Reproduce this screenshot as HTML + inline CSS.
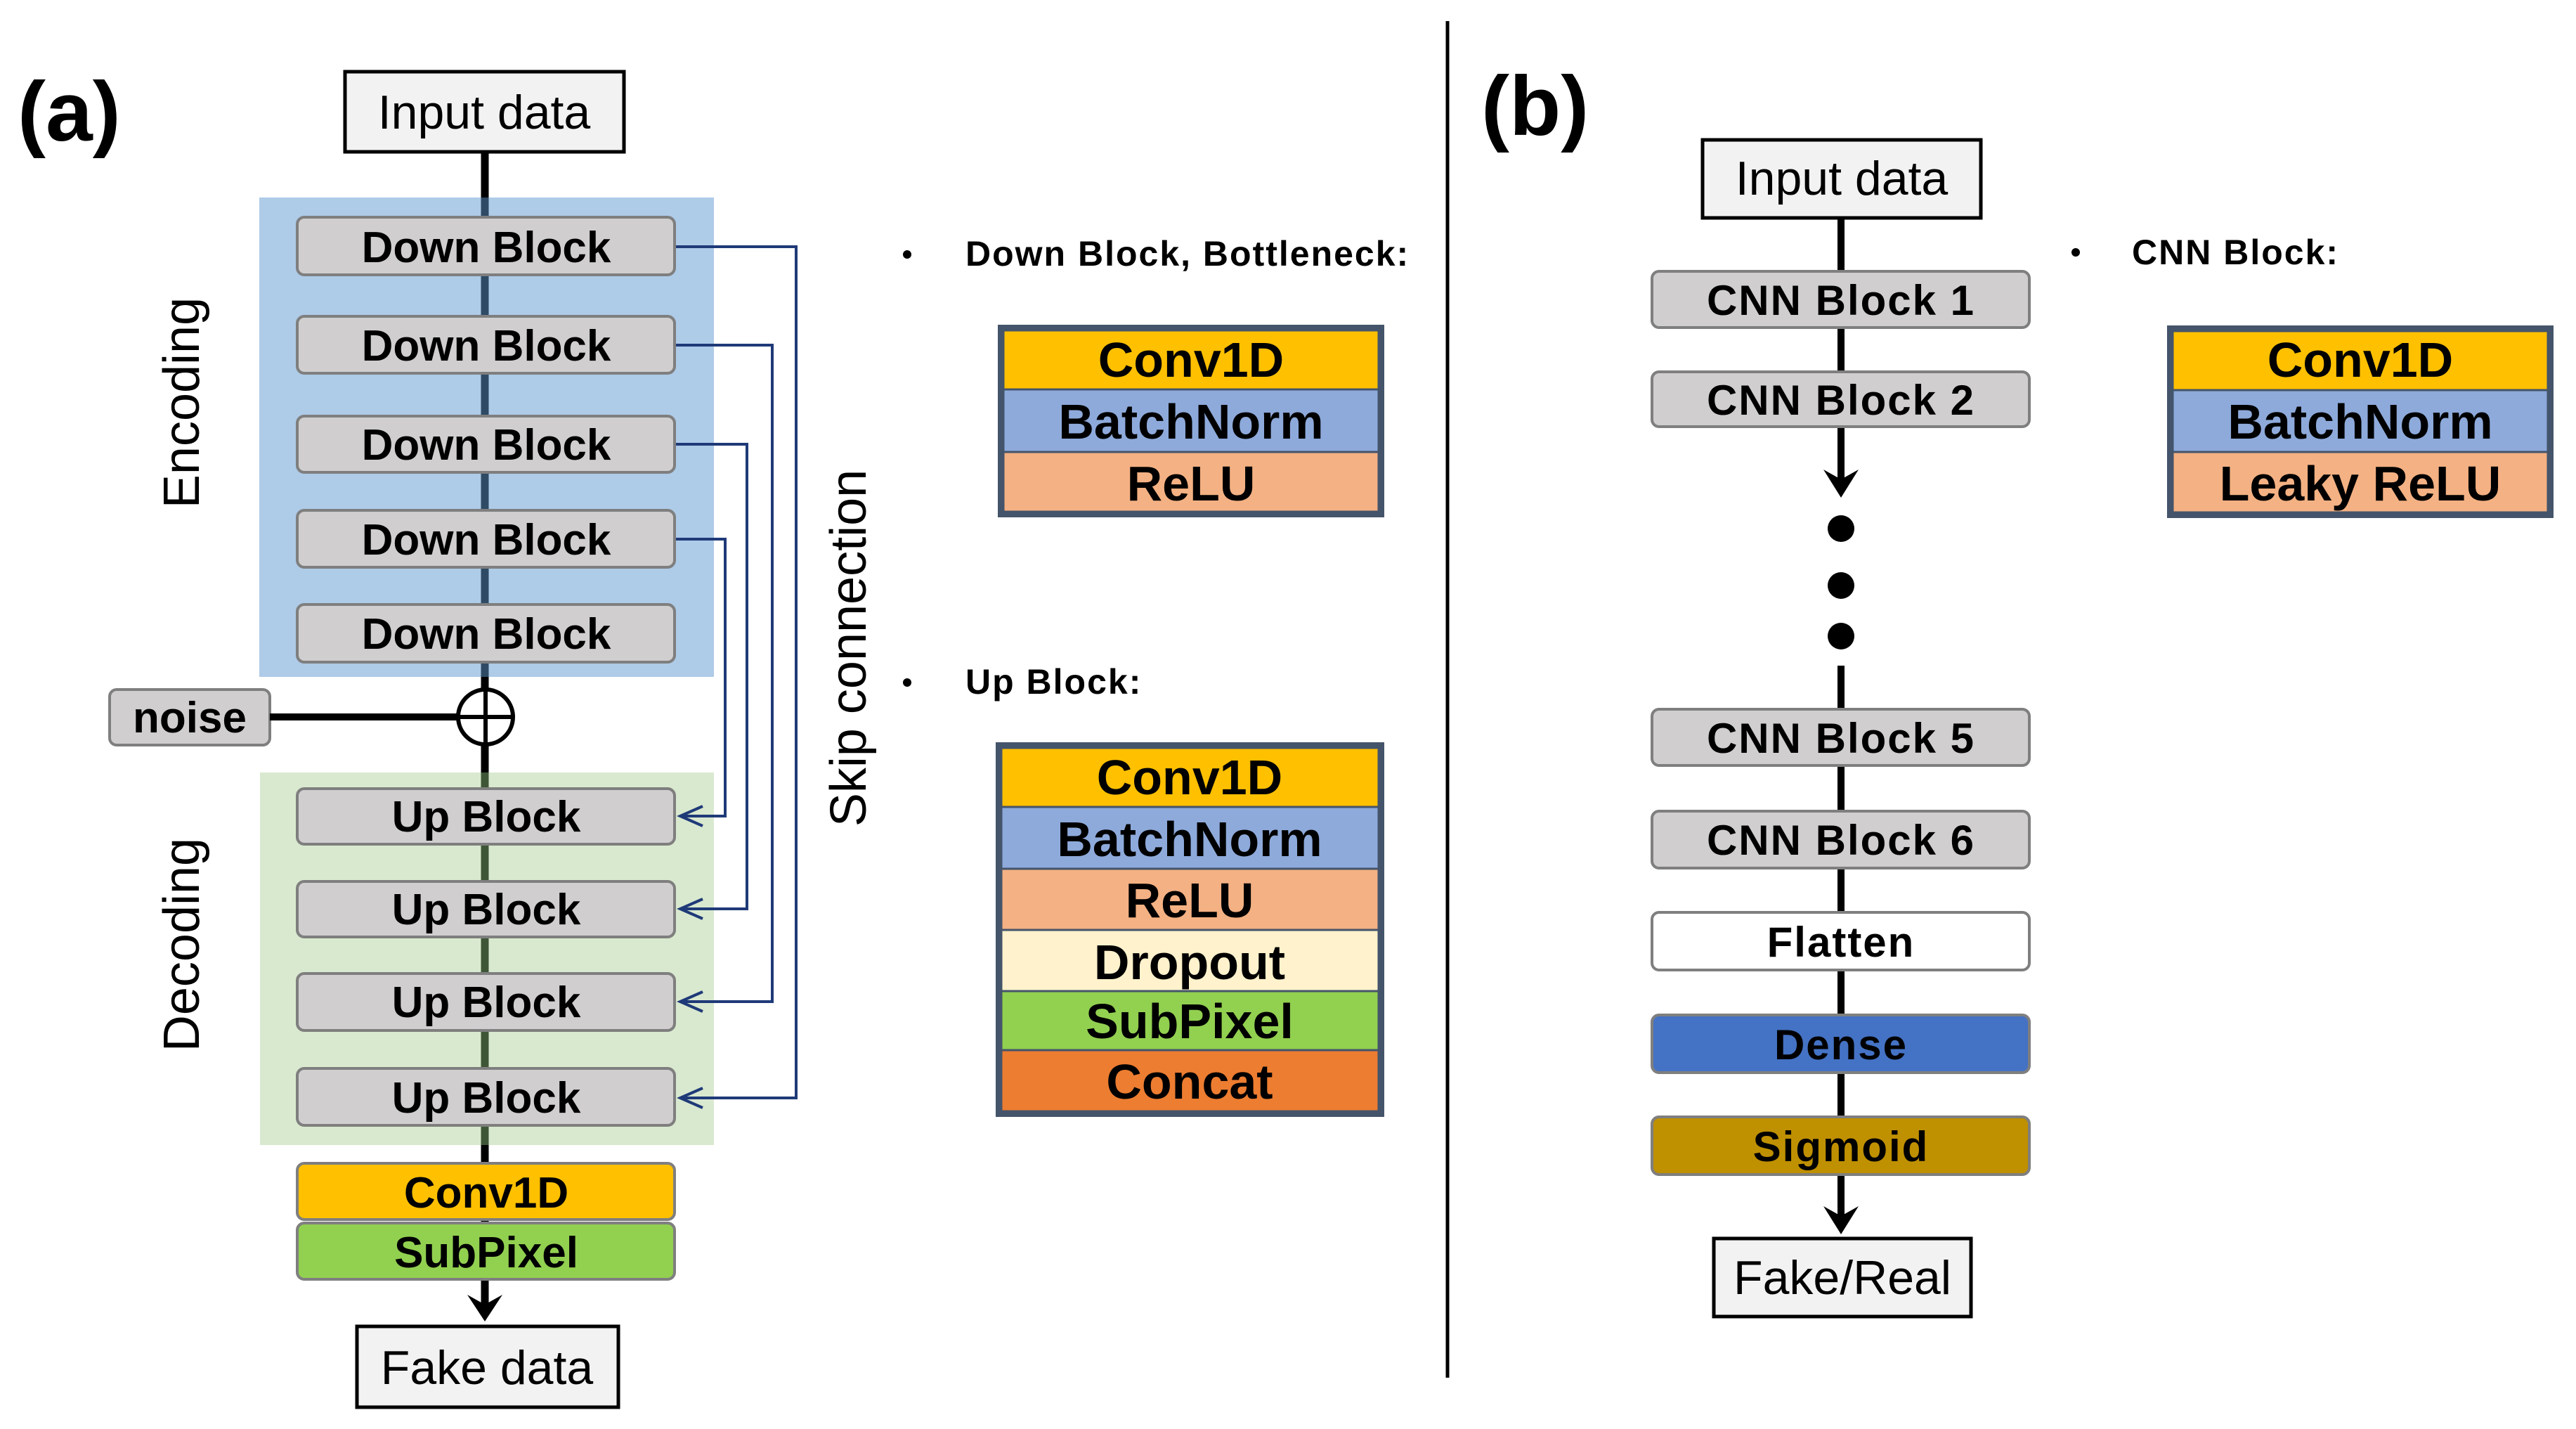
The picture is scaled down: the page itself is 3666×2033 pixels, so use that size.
<!DOCTYPE html>
<html><head><meta charset="utf-8"><style>
html,body{margin:0;padding:0;background:#fff;}
svg{display:block;}
text{font-family:"Liberation Sans",sans-serif;}
.b{font-weight:bold;}
</style></head><body>
<svg width="3666" height="2033" viewBox="0 0 3666 2033" xmlns="http://www.w3.org/2000/svg">
<!-- (a) -->
<text x="25" y="200" font-size="120" class="b">(a)</text>
<line x1="690" y1="218" x2="690" y2="1870" stroke="#000" stroke-width="11"/>
<rect x="369" y="281" width="647" height="682" fill="#aecbe8"/>
<rect x="370" y="1099" width="646" height="530" fill="#d9e9cf"/>
<line x1="690" y1="281" x2="690" y2="963" stroke="#2e4a64" stroke-width="11"/>
<line x1="690" y1="1099" x2="690" y2="1629" stroke="#3e5636" stroke-width="11"/>
<rect x="491" y="102" width="397" height="114" fill="#f2f2f2" stroke="#000" stroke-width="5"/>
<text x="689" y="183" font-size="68" text-anchor="middle">Input data</text>
<g fill="none" stroke="#1f3a78" stroke-width="4">
<polyline points="960,351 1133,351 1133,1562 968,1562"/>
<polyline points="960,491 1099,491 1099,1425 968,1425"/>
<polyline points="960,632 1063,632 1063,1293 968,1293"/>
<polyline points="960,767 1032,767 1032,1161 968,1161"/>
<polyline points="1000,1147 968,1161 1000,1175"/>
<polyline points="1000,1279 968,1293 1000,1307"/>
<polyline points="1000,1411 968,1425 1000,1439"/>
<polyline points="1000,1548 968,1562 1000,1576"/>
</g>
<g fill="#d0cece" stroke="#7f7f7f" stroke-width="4">
<rect x="423" y="309" width="537" height="82" rx="10"/>
<rect x="423" y="450" width="537" height="81" rx="10"/>
<rect x="423" y="592" width="537" height="80" rx="10"/>
<rect x="423" y="726" width="537" height="81" rx="10"/>
<rect x="423" y="860" width="537" height="82" rx="10"/>
<rect x="423" y="1122" width="537" height="79" rx="10"/>
<rect x="423" y="1254" width="537" height="79" rx="10"/>
<rect x="423" y="1385" width="537" height="81" rx="10"/>
<rect x="423" y="1520" width="537" height="81" rx="10"/>
<rect x="156" y="981" width="228" height="79" rx="10"/>
</g>
<g font-size="62" class="b" text-anchor="middle">
<text x="692" y="373">Down Block</text>
<text x="692" y="513">Down Block</text>
<text x="692" y="654">Down Block</text>
<text x="692" y="789">Down Block</text>
<text x="692" y="923">Down Block</text>
<text x="692" y="1183">Up Block</text>
<text x="692" y="1315">Up Block</text>
<text x="692" y="1447">Up Block</text>
<text x="692" y="1583">Up Block</text>
<text x="270" y="1042">noise</text>
</g>
<line x1="384" y1="1020" x2="652" y2="1020" stroke="#000" stroke-width="10"/>
<circle cx="691" cy="1020" r="39" fill="#fff" stroke="#000" stroke-width="6"/>
<line x1="652" y1="1020" x2="730" y2="1020" stroke="#000" stroke-width="6"/>
<line x1="691" y1="981" x2="691" y2="1059" stroke="#000" stroke-width="6"/>
<text transform="translate(283,573) rotate(-90)" font-size="72" text-anchor="middle">Encoding</text>
<text transform="translate(283,1344) rotate(-90)" font-size="72" text-anchor="middle">Decoding</text>
<text transform="translate(1232,922) rotate(-90)" font-size="72" text-anchor="middle">Skip connection</text>
<rect x="423" y="1655" width="537" height="80" rx="10" fill="#ffc000" stroke="#7f7f7f" stroke-width="4"/>
<rect x="423" y="1740" width="537" height="80" rx="10" fill="#92d050" stroke="#7f7f7f" stroke-width="4"/>
<text x="692" y="1718" font-size="62" class="b" text-anchor="middle">Conv1D</text>
<text x="692" y="1803" font-size="62" class="b" text-anchor="middle">SubPixel</text>
<polygon points="665,1842 690,1880 715,1842 690,1856" fill="#000"/>
<rect x="508" y="1887" width="372" height="115" fill="#f2f2f2" stroke="#000" stroke-width="5"/>
<text x="693" y="1969" font-size="68" text-anchor="middle">Fake data</text>
<circle cx="1291" cy="362" r="6" fill="#000"/>
<text x="1374" y="378" font-size="50" class="b" letter-spacing="2">Down Block, Bottleneck:</text>
<circle cx="1291" cy="971" r="6" fill="#000"/>
<text x="1374" y="987" font-size="50" class="b" letter-spacing="2">Up Block:</text>
<g stroke="#44546a" stroke-width="3">
<rect x="1428" y="470" width="534" height="84" fill="#ffc000"/>
<rect x="1428" y="554" width="534" height="89" fill="#8eaadb"/>
<rect x="1428" y="643" width="534" height="85" fill="#f4b183"/>
<rect x="1425" y="1064" width="537" height="84" fill="#ffc000"/>
<rect x="1425" y="1148" width="537" height="88" fill="#8eaadb"/>
<rect x="1425" y="1236" width="537" height="87" fill="#f4b183"/>
<rect x="1425" y="1323" width="537" height="87" fill="#fff2cc"/>
<rect x="1425" y="1410" width="537" height="84" fill="#92d050"/>
<rect x="1425" y="1494" width="537" height="87" fill="#ed7d31"/>
</g>
<rect x="1424" y="466" width="542" height="266" fill="none" stroke="#44546a" stroke-width="8"/>
<rect x="1421" y="1060" width="545" height="525" fill="none" stroke="#44546a" stroke-width="8"/>
<g font-size="70" class="b" text-anchor="middle">
<text x="1695" y="536">Conv1D</text>
<text x="1695" y="624">BatchNorm</text>
<text x="1695" y="712">ReLU</text>
<text x="1693" y="1130">Conv1D</text>
<text x="1693" y="1218">BatchNorm</text>
<text x="1693" y="1305">ReLU</text>
<text x="1693" y="1393">Dropout</text>
<text x="1693" y="1477">SubPixel</text>
<text x="1693" y="1563">Concat</text>
</g>
<line x1="2060" y1="30" x2="2060" y2="1960" stroke="#000" stroke-width="5"/>
<!-- (b) -->
<text x="2108" y="192" font-size="120" class="b">(b)</text>
<line x1="2620" y1="311" x2="2620" y2="690" stroke="#000" stroke-width="10"/>
<polygon points="2595,668 2620,708 2645,668 2620,682" fill="#000"/>
<circle cx="2620" cy="752" r="19" fill="#000"/>
<circle cx="2620" cy="833" r="19" fill="#000"/>
<circle cx="2620" cy="905" r="19" fill="#000"/>
<line x1="2620" y1="947" x2="2620" y2="1738" stroke="#000" stroke-width="10"/>
<polygon points="2595,1716 2620,1756 2645,1716 2620,1730" fill="#000"/>
<rect x="2423" y="199" width="396" height="111" fill="#f2f2f2" stroke="#000" stroke-width="5"/>
<text x="2621" y="277" font-size="68" text-anchor="middle">Input data</text>
<g stroke="#7f7f7f" stroke-width="4">
<rect x="2351" y="386" width="537" height="80" rx="10" fill="#d0cece"/>
<rect x="2351" y="529" width="537" height="78" rx="10" fill="#d0cece"/>
<rect x="2351" y="1009" width="537" height="80" rx="10" fill="#d0cece"/>
<rect x="2351" y="1154" width="537" height="81" rx="10" fill="#d0cece"/>
<rect x="2351" y="1298" width="537" height="82" rx="10" fill="#fff"/>
<rect x="2351" y="1444" width="537" height="82" rx="10" fill="#4472c4"/>
<rect x="2351" y="1589" width="537" height="82" rx="10" fill="#bf9000"/>
</g>
<g font-size="60" class="b" text-anchor="middle" letter-spacing="2">
<text x="2620" y="448">CNN Block 1</text>
<text x="2620" y="590">CNN Block 2</text>
<text x="2620" y="1071">CNN Block 5</text>
<text x="2620" y="1216">CNN Block 6</text>
<text x="2620" y="1361">Flatten</text>
<text x="2620" y="1507">Dense</text>
<text x="2620" y="1652">Sigmoid</text>
</g>
<rect x="2439" y="1762" width="366" height="111" fill="#f2f2f2" stroke="#000" stroke-width="5"/>
<text x="2622" y="1841" font-size="68" text-anchor="middle">Fake/Real</text>
<circle cx="2954" cy="359" r="6" fill="#000"/>
<text x="3034" y="376" font-size="50" class="b" letter-spacing="2">CNN Block:</text>
<g stroke="#44546a" stroke-width="3">
<rect x="3092" y="471" width="534" height="84" fill="#ffc000"/>
<rect x="3092" y="555" width="534" height="88" fill="#8eaadb"/>
<rect x="3092" y="643" width="534" height="86" fill="#f4b183"/>
</g>
<rect x="3088" y="467" width="542" height="266" fill="none" stroke="#44546a" stroke-width="8"/>
<g font-size="70" class="b" text-anchor="middle">
<text x="3359" y="536">Conv1D</text>
<text x="3359" y="624">BatchNorm</text>
<text x="3359" y="712">Leaky ReLU</text>
</g>
</svg>
</body></html>
